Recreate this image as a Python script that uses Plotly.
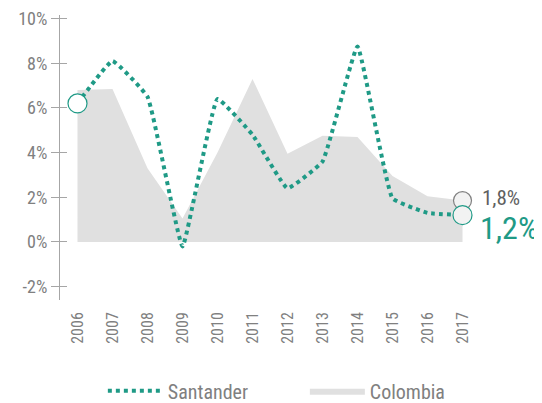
import plotly.graph_objects as go

years = ["2006", "2007", "2008", "2009", "2010", "2011", "2012", "2013", "2014", "2015", "2016", "2017"]
santander = [6.2, 8.1, 6.5, -0.2, 6.4, 4.8, 2.4, 3.6, 8.75, 1.95, 1.3, 1.2]
colombia = [6.8, 6.85, 3.3, 1.05, 4.0, 7.3, 3.95, 4.75, 4.7, 2.95, 2.05, 1.85]
ytick_vals = [-2, 0, 2, 4, 6, 8, 10]
ytick_text = ["-2%", "0%", "2%", "4%", "6%", "8%", "10%"]

TEAL = "#1f9a86"
GRAY_TXT = "#808080"
FONT = "Roboto Condensed, Liberation Sans Narrow, DejaVu Sans Condensed, Roboto, sans-serif"

x = list(range(len(years)))

fig = go.Figure()
fig.add_trace(go.Scatter(
    x=x, y=colombia, name="Colombia", mode="lines", fill="tozeroy",
    line=dict(width=0, color="#e0e0e0"), fillcolor="#e0e0e0",
    hoverinfo="skip"))
fig.add_trace(go.Scatter(
    x=x, y=santander, name="Santander", mode="lines",
    line=dict(color=TEAL, width=4, dash="dot", shape="spline", smoothing=0.3)))
fig.add_trace(go.Scatter(
    x=[x[-1]], y=[colombia[-1]], mode="markers", showlegend=False,
    marker=dict(size=18, color="#f2f2f2", line=dict(color="#808080", width=1.2))))
fig.add_trace(go.Scatter(
    x=[x[0], x[-1]], y=[santander[0], santander[-1]], mode="markers", showlegend=False,
    marker=dict(size=19, color=["#ffffff", "#f2f2f2"], line=dict(color=TEAL, width=1.2))))

fig.add_annotation(x=x[-1], y=colombia[-1], text="1,8%", showarrow=False,
                   xanchor="left", xshift=17, yshift=3,
                   font=dict(family=FONT, size=21, color="#5f5f5f"))
fig.add_annotation(x=x[-1], y=santander[-1], text="1,2%", showarrow=False,
                   xanchor="left", xshift=15, yshift=-13,
                   font=dict(family=FONT, size=32, color=TEAL))

fig.update_layout(
    width=542, height=403,
    margin=dict(l=52, r=70, t=7, b=111, autoexpand=False),
    paper_bgcolor="white", plot_bgcolor="white",
    font=dict(family=FONT, color=GRAY_TXT),
    showlegend=True,
    legend=dict(orientation="h", x=0.175, xref="container", xanchor="left",
                y=0.05, yref="container", yanchor="middle",
                font=dict(size=20, color=GRAY_TXT), entrywidth=132, itemwidth=55,
                traceorder="reversed"),
    xaxis=dict(range=[-0.5, 11.5], tickmode="array", tickvals=x, ticktext=years,
               tickangle=-90, showgrid=False, zeroline=False, showline=False,
               ticks="", automargin=False, ticklabelstandoff=8,
               tickfont=dict(size=16, color=GRAY_TXT)),
    yaxis=dict(range=[-2.6, 10.16], tickmode="array", tickvals=ytick_vals,
               ticktext=ytick_text, showgrid=False, zeroline=False,
               showline=True, linecolor="#a6a6a6", linewidth=1.2,
               ticks="outside", ticklen=8, tickcolor="#a6a6a6", automargin=False,
               ticklabeloverflow="allow",
               tickfont=dict(size=18, color=GRAY_TXT)),
    yaxis2=dict(range=[-2.6, 10.16], overlaying="y", side="left",
                tickmode="array", tickvals=ytick_vals, showticklabels=False,
                showgrid=False, zeroline=False, showline=False, automargin=False,
                ticks="inside", ticklen=7, tickcolor="#a6a6a6"),
)
fig.add_trace(go.Scatter(x=[None], y=[None], yaxis="y2", showlegend=False, hoverinfo="skip"))

fig.write_html("out.html")
